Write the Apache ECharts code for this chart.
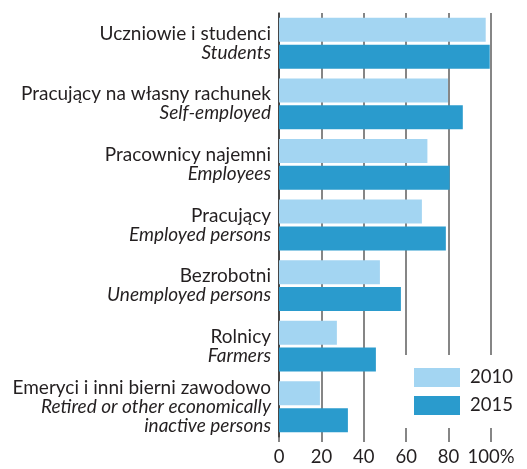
<html>
<head>
    <meta charset="utf-8" />
    <title>Bar chart</title>
    <style>
        body { margin: 0; background: #fff; }
    </style>
</head>
<body>
    <div id="main" style="width: 527px;height:469px;"></div>
    <script src="https://cdn.jsdelivr.net/npm/echarts@6/dist/echarts.min.js" type="text/javascript"></script>
    <script type="text/javascript">
        var labelsPl = ['Uczniowie i studenci', 'Pracujący na własny rachunek', 'Pracownicy najemni', 'Pracujący', 'Bezrobotni', 'Rolnicy', 'Emeryci i inni bierni zawodowo'];
        var labelsEn = ['Students', 'Self-employed', 'Employees', 'Employed persons', 'Unemployed persons', 'Farmers', 'Retired or other economically\ninactive persons'];
        var values2010 = [97.5, 79.7, 70, 67.4, 47.6, 27.3, 19.3];
        var values2015 = [99.4, 86.7, 80.5, 78.7, 57.5, 45.7, 32.5];
        var xTicks = [0, 20, 40, 60, 80, 100];

        var lightColor = '#a3d5f2';
        var darkColor = '#2a9bcd';
        var gridColor = '#5e5e5e';
        var textColor = '#231f20';
        var font = 'Lato';
        var fontSize = 19;

        var myChart = echarts.init(document.getElementById('main'));

        var categories = labelsPl.map(function (pl, i) {
            return pl + '|' + labelsEn[i];
        });

        var option = {
            animation: false,
            textStyle: { fontFamily: font },
            grid: {
                left: 279,
                right: 36,
                top: 13,
                bottom: 32,
                containLabel: false
            },
            legend: {
                orient: 'vertical',
                left: 400,
                top: 355,
                backgroundColor: '#fff',
                padding: [13, 10, 13, 14],
                itemWidth: 46,
                itemHeight: 19,
                itemGap: 9,
                icon: 'rect',
                textStyle: {
                    fontFamily: font,
                    fontSize: 18.5,
                    color: textColor,
                    padding: [0, 0, 0, 5]
                },
                data: ['2010', '2015']
            },
            xAxis: {
                type: 'value',
                min: 0,
                max: 100,
                interval: 20,
                axisLine: { show: false },
                axisTick: {
                    show: true,
                    length: 5,
                    lineStyle: { color: gridColor, width: 1.5 }
                },
                splitLine: {
                    show: true,
                    lineStyle: { color: gridColor, width: 1.5 }
                },
                axisLabel: {
                    margin: 11,
                    fontSize: 18.5,
                    color: textColor,
                    fontFamily: font,
                    formatter: function (v) {
                        if (xTicks.indexOf(v) < 0) return '';
                        return v === 100 ? v + '%' : '' + v;
                    }
                }
            },
            yAxis: {
                type: 'category',
                inverse: true,
                data: categories,
                axisLine: {
                    show: true,
                    lineStyle: { color: '#333', width: 1.5 }
                },
                axisTick: { show: false },
                axisLabel: {
                    margin: 8,
                    align: 'right',
                    formatter: function (v) {
                        var parts = v.split('|');
                        var en = parts[1].split('\n').map(function (s) {
                            return '{b|' + s + '}';
                        }).join('\n');
                        return '{a|' + parts[0] + '}\n' + en;
                    },
                    rich: {
                        a: {
                            fontFamily: font,
                            fontSize: fontSize,
                            lineHeight: 19,
                            color: textColor,
                            align: 'right'
                        },
                        b: {
                            fontFamily: font,
                            fontStyle: 'italic',
                            fontSize: fontSize,
                            lineHeight: 19,
                            color: textColor,
                            align: 'right'
                        }
                    }
                }
            },
            series: [
                {
                    name: '2010',
                    type: 'bar',
                    data: values2010,
                    barWidth: 24,
                    barGap: '12%',
                    itemStyle: { color: lightColor }
                },
                {
                    name: '2015',
                    type: 'bar',
                    data: values2015,
                    barWidth: 24,
                    barGap: '12%',
                    itemStyle: { color: darkColor }
                }
            ]
        };

        myChart.setOption(option);
    </script>
</body>
</html>
